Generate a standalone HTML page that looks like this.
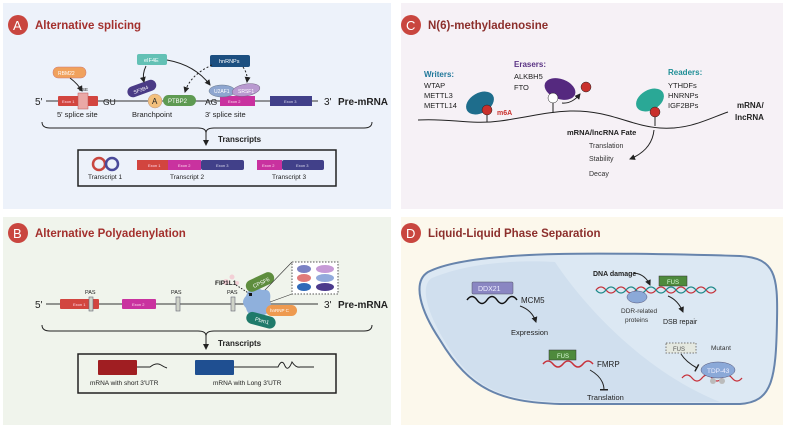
<!DOCTYPE html>
<html><head><meta charset="utf-8"><style>
html,body{margin:0;padding:0;background:#fff;width:786px;height:428px;overflow:hidden}
text{font-family:"Liberation Sans",sans-serif}
</style></head><body>
<svg width="786" height="428" viewBox="0 0 786 428" xmlns="http://www.w3.org/2000/svg">
<defs>
<marker id="ar" markerWidth="6" markerHeight="6" refX="5" refY="3" orient="auto"><path d="M0,0 L6,3 L0,6 Z" fill="#222"/></marker>
<marker id="tb" markerWidth="2" markerHeight="8" refX="1" refY="4" orient="auto"><rect x="0" y="0" width="1.5" height="8" fill="#222"/></marker>
</defs>
<!-- panels -->
<rect x="3" y="3" width="388" height="206" fill="#edf2fa"/>
<rect x="401" y="3" width="382" height="206" fill="#f6f1f6"/>
<rect x="3" y="217" width="388" height="208" fill="#f0f4ec"/>
<rect x="401" y="217" width="382" height="208" fill="#fcf8ec"/>

<!-- ===== A ===== -->
<circle cx="18" cy="25" r="10" fill="#c9463f"/><text x="13" y="30" font-size="13" fill="#fff">A</text>
<text x="35" y="29" font-size="11.5" font-weight="bold" fill="#a3302d">Alternative splicing</text>
<line x1="46" y1="101" x2="318" y2="101" stroke="#333" stroke-width="1"/>
<text x="35" y="105" font-size="10" fill="#222">5'</text>
<text x="324" y="105" font-size="10" fill="#222">3'</text>
<text x="338" y="105" font-size="10" font-weight="bold" fill="#222">Pre-mRNA</text>
<rect x="58" y="96" width="40" height="10" fill="#d2453f" rx="1"/>
<text x="62" y="103" font-size="4" fill="#fde">Exon 1</text>
<rect x="78" y="93" width="10" height="16" fill="#eaa8a6" stroke="#b55" stroke-width=".5"/>
<text x="79" y="91" font-size="4.5" fill="#222">ESE</text>
<text x="103" y="105" font-size="8.5" fill="#222">GU</text>
<text x="57" y="117" font-size="7.5" fill="#222">5' splice site</text>
<rect x="53" y="67" width="33" height="11" rx="5" fill="#f0a15c" stroke="#c77" stroke-width=".5"/>
<text x="58" y="75" font-size="5" fill="#fff">RBM22</text>
<path d="M70 78 Q78 84 82 91" stroke="#222" fill="none" stroke-width="1" marker-end="url(#ar)"/>
<g transform="rotate(-20 142 89)"><rect x="127" y="83" width="30" height="11" rx="5.5" fill="#4a3b86"/><text x="133" y="91" font-size="5" fill="#fff">SF3B4</text></g>
<circle cx="155" cy="101" r="7" fill="#f3c07c" stroke="#b98" stroke-width=".5"/><text x="152" y="104" font-size="8" fill="#222">A</text>
<rect x="163" y="95" width="33" height="11" rx="5.5" fill="#5e9a52"/><text x="168" y="103" font-size="6" fill="#fff">PTBP2</text>
<text x="132" y="117" font-size="7.5" fill="#222">Branchpoint</text>
<text x="205" y="105" font-size="8.5" fill="#222">AG</text>
<rect x="220" y="96" width="35" height="10" fill="#c9329f"/>
<text x="228" y="103" font-size="4" fill="#fde">Exon 2</text>
<ellipse cx="222" cy="91" rx="13" ry="6" fill="#8ea6d0" stroke="#678" stroke-width=".5"/><text x="214" y="93" font-size="5" fill="#fff">U2AF1</text>
<ellipse cx="246" cy="90" rx="14" ry="6" fill="#b99ad0" stroke="#768" stroke-width=".5" transform="rotate(-10 246 90)"/><text x="238" y="93" font-size="5" fill="#fff">SRSF1</text>
<text x="205" y="117" font-size="7.5" fill="#222">3' splice site</text>
<rect x="270" y="96" width="42" height="10" fill="#414089"/>
<text x="284" y="103" font-size="4" fill="#dde">Exon 3</text>
<rect x="137" y="54" width="30" height="11" rx="2" fill="#63c1b5"/><text x="144" y="62" font-size="5.5" fill="#fff">eIF4E</text>
<rect x="210" y="55" width="40" height="12" rx="2" fill="#1c4f80"/><text x="219" y="63" font-size="5.5" fill="#fff">hnRNPs</text>
<path d="M146 66 Q142 74 144 82" stroke="#222" fill="none" marker-end="url(#ar)"/>
<path d="M167 60 Q195 65 210 85" stroke="#222" fill="none" marker-end="url(#ar)"/>
<path d="M212 65 Q190 75 185 92" stroke="#222" fill="none" stroke-dasharray="2,2" marker-end="url(#ar)"/>
<path d="M243 67 Q248 74 247 82" stroke="#222" fill="none" stroke-dasharray="2,2" marker-end="url(#ar)"/>
<path d="M42 122 Q42 128 50 128 L198 128 Q206 128 206 133 Q206 128 214 128 L364 128 Q372 128 372 122" stroke="#222" fill="none"/>
<line x1="206" y1="132" x2="206" y2="145" stroke="#222" marker-end="url(#ar)"/>
<text x="218" y="142" font-size="8" font-weight="bold" fill="#222">Transcripts</text>
<rect x="78" y="150" width="258" height="36" fill="none" stroke="#222" stroke-width="1.5"/>
<circle cx="99" cy="164" r="6" fill="none" stroke="#c9463f" stroke-width="2.5"/>
<circle cx="112" cy="164" r="6" fill="none" stroke="#4a4a9a" stroke-width="2.5"/>
<text x="88" y="179" font-size="6.5" fill="#222">Transcript 1</text>
<rect x="137" y="160" width="31" height="10" fill="#d2453f"/><rect x="168" y="160" width="33" height="10" fill="#c9329f"/><rect x="201" y="160" width="43" height="10" fill="#414089" rx="2"/>
<text x="148" y="167" font-size="4" fill="#fde">Exon 1</text><text x="178" y="167" font-size="4" fill="#fde">Exon 2</text><text x="216" y="167" font-size="4" fill="#dde">Exon 3</text>
<text x="170" y="179" font-size="6.5" fill="#222">Transcript 2</text>
<rect x="257" y="160" width="25" height="10" fill="#c9329f"/><rect x="282" y="160" width="42" height="10" fill="#414089" rx="2"/>
<text x="262" y="167" font-size="4" fill="#fde">Exon 2</text><text x="296" y="167" font-size="4" fill="#dde">Exon 3</text>
<text x="272" y="179" font-size="6.5" fill="#222">Transcript 3</text>

<!-- ===== B ===== -->
<circle cx="18" cy="233" r="10" fill="#c9463f"/><text x="13" y="238" font-size="13" fill="#fff">B</text>
<text x="35" y="237" font-size="11.5" font-weight="bold" fill="#a3302d">Alternative Polyadenylation</text>
<line x1="46" y1="304" x2="318" y2="304" stroke="#333"/>
<text x="35" y="308" font-size="10" fill="#222">5'</text>
<text x="324" y="308" font-size="10" fill="#222">3'</text>
<text x="338" y="308" font-size="10" font-weight="bold" fill="#222">Pre-mRNA</text>
<rect x="60" y="299" width="39" height="10" rx="1" fill="#d2453f"/><text x="73" y="306" font-size="4" fill="#fde">Exon 1</text>
<rect x="122" y="299" width="34" height="10" rx="1" fill="#c9329f"/><text x="132" y="306" font-size="4" fill="#fde">Exon 2</text>
<rect x="89" y="297" width="4" height="14" fill="#cfd3c8" stroke="#667" stroke-width=".6"/>
<rect x="176" y="297" width="4" height="14" fill="#cfd3c8" stroke="#667" stroke-width=".6"/>
<rect x="231" y="297" width="4" height="14" fill="#cfd3c8" stroke="#667" stroke-width=".6"/>
<text x="85" y="294" font-size="5.5" fill="#222">PAS</text><text x="171" y="294" font-size="5.5" fill="#222">PAS</text><text x="227" y="294" font-size="5.5" fill="#222">PAS</text>
<path d="M246 296 Q250 284 262 290 Q272 288 270 300 Q274 312 262 316 Q248 318 246 308 Q240 302 246 296Z" fill="#8fb0dc"/>
<g transform="rotate(-25 260 282)"><rect x="245" y="276" width="30" height="12" rx="6" fill="#5e8d3e"/><text x="252" y="285" font-size="5.5" fill="#fff">CPSF6</text></g>
<g transform="rotate(15 260 320)"><rect x="246" y="314" width="30" height="12" rx="6" fill="#1f7a6a"/><text x="255" y="322" font-size="5.5" fill="#fff">Pbm1</text></g>
<rect x="266" y="305" width="31" height="11" rx="5.5" fill="#ee9a50"/><text x="270" y="312" font-size="4.5" fill="#fff">hnRNP C</text>
<circle cx="226" cy="282" r="3" fill="#f3d0d6"/><circle cx="232" cy="277" r="2.5" fill="#f3d0d6"/><circle cx="237" cy="283" r="2" fill="#f3d0d6"/>
<text x="215" y="285" font-size="6.5" font-weight="bold" fill="#222">FIP1L1</text>
<path d="M236 285 L250 294" stroke="#222" stroke-dasharray="1.5,1.5"/>
<rect x="249" y="293" width="3" height="3" fill="#111"/>
<line x1="265" y1="290" x2="292" y2="262" stroke="#333" stroke-width=".6"/>
<line x1="270" y1="302" x2="292" y2="294" stroke="#333" stroke-width=".6"/>
<rect x="292" y="262" width="46" height="32" fill="#fff" stroke="#555" stroke-dasharray="1.5,1.5"/>
<ellipse cx="304" cy="269" rx="7" ry="4" fill="#7b82c4"/><ellipse cx="325" cy="269" rx="9" ry="4" fill="#c69ad6"/>
<ellipse cx="304" cy="278" rx="7" ry="4" fill="#e07a7a"/><ellipse cx="325" cy="278" rx="9" ry="4" fill="#92aadc"/>
<ellipse cx="304" cy="287" rx="7" ry="4" fill="#2f69b8"/><ellipse cx="325" cy="287" rx="9" ry="4" fill="#4b3a8c"/>
<path d="M42 325 Q42 331 50 331 L198 331 Q206 331 206 336 Q206 331 214 331 L364 331 Q372 331 372 325" stroke="#222" fill="none"/>
<line x1="206" y1="335" x2="206" y2="349" stroke="#222" marker-end="url(#ar)"/>
<text x="218" y="346" font-size="8" font-weight="bold" fill="#222">Transcripts</text>
<rect x="78" y="354" width="258" height="39" fill="none" stroke="#222" stroke-width="1.5"/>
<rect x="98" y="360" width="39" height="15" rx="1" fill="#a01e22"/>
<path d="M137 367 L150 367 Q156 362 161 365 Q164 367 167 368" stroke="#222" fill="none"/>
<text x="90" y="385" font-size="6.5" fill="#222">mRNA with short 3'UTR</text>
<rect x="195" y="360" width="39" height="15" rx="1" fill="#1f4f91"/>
<path d="M234 367 L278 367 Q282 358 285 366 Q288 372 292 362 Q296 368 300 367 L314 367" stroke="#222" fill="none"/>
<text x="213" y="385" font-size="6.5" fill="#222">mRNA with Long 3'UTR</text>

<!-- ===== C ===== -->
<circle cx="411" cy="25" r="10" fill="#c9463f"/><text x="406" y="30" font-size="13" fill="#fff">C</text>
<text x="428" y="29" font-size="11.5" font-weight="bold" fill="#8c2f2c">N(6)-methyladenosine</text>
<text x="424" y="77" font-size="8" font-weight="bold" fill="#20789a">Writers:</text>
<text x="424" y="88" font-size="7.5" fill="#222">WTAP</text><text x="424" y="98" font-size="7.5" fill="#222">METTL3</text><text x="424" y="108" font-size="7.5" fill="#222">METTL14</text>
<text x="514" y="67" font-size="8" font-weight="bold" fill="#5a3384">Erasers:</text>
<text x="514" y="79" font-size="7.5" fill="#222">ALKBH5</text><text x="514" y="90" font-size="7.5" fill="#222">FTO</text>
<text x="668" y="75" font-size="8" font-weight="bold" fill="#1f8e96">Readers:</text>
<text x="668" y="88" font-size="7.5" fill="#222">YTHDFs</text><text x="668" y="98" font-size="7.5" fill="#222">HNRNPs</text><text x="668" y="108" font-size="7.5" fill="#222">IGF2BPs</text>
<path d="M418 120 C450 118 470 125 500 121 C530 117 545 112 570 111 C610 110 630 126 660 128 C690 130 710 118 728 112" stroke="#222" fill="none" stroke-width="1"/>
<ellipse cx="480" cy="103" rx="15" ry="10" fill="#1e6d8c" transform="rotate(-30 480 103)"/>
<line x1="487" y1="110" x2="487" y2="122" stroke="#222"/>
<circle cx="487" cy="110" r="5" fill="#c9302c" stroke="#222" stroke-width=".5"/>
<text x="497" y="115" font-size="7" font-weight="bold" fill="#c9302c">m6A</text>
<ellipse cx="560" cy="89" rx="16" ry="10" fill="#55297f" transform="rotate(20 560 89)"/>
<line x1="553" y1="98" x2="553" y2="113" stroke="#222"/>
<circle cx="553" cy="98" r="5" fill="#fff" stroke="#222" stroke-width=".5"/>
<path d="M562 103 Q572 104 580 94" stroke="#222" fill="none" marker-end="url(#ar)"/>
<circle cx="586" cy="87" r="5" fill="#c9302c" stroke="#222" stroke-width=".5"/>
<ellipse cx="650" cy="100" rx="15" ry="10" fill="#2aa896" transform="rotate(-30 650 100)"/>
<line x1="655" y1="112" x2="655" y2="126" stroke="#222"/>
<circle cx="655" cy="112" r="5" fill="#c9302c" stroke="#222" stroke-width=".5"/>
<text x="737" y="108" font-size="8" font-weight="bold" fill="#222">mRNA/</text>
<text x="735" y="120" font-size="8" font-weight="bold" fill="#222">lncRNA</text>
<text x="567" y="135" font-size="7.5" font-weight="bold" fill="#222">mRNA/lncRNA Fate</text>
<text x="589" y="148" font-size="7" fill="#333">Translation</text>
<text x="589" y="161" font-size="7" fill="#333">Stability</text>
<text x="589" y="176" font-size="7" fill="#333">Decay</text>
<path d="M654 130 Q652 150 630 159" stroke="#222" fill="none" marker-end="url(#ar)"/>

<!-- ===== D ===== -->
<circle cx="411" cy="233" r="10" fill="#c9463f"/><text x="406" y="238" font-size="13" fill="#fff">D</text>
<text x="428" y="237" font-size="11.5" font-weight="bold" fill="#8c2f2c">Liquid-Liquid Phase Separation</text>
<path d="M428 272 C470 250 600 252 740 256 C775 258 778 275 777 320 C776 380 772 402 740 404 L560 404 C500 402 470 390 440 340 C420 310 412 282 428 272 Z" fill="#dce8f3" stroke="#6784ac" stroke-width="2"/>
<path d="M432 278 C470 262 520 260 555 262 C580 300 640 370 720 402 L560 402 C500 400 472 388 444 340 C426 310 420 285 432 278Z" fill="#d0dfee"/>
<rect x="472" y="282" width="41" height="12" rx="1" fill="#8a86c2" stroke="#556" stroke-width=".5"/>
<text x="478" y="291" font-size="7" fill="#eef">DDX21</text>
<path d="M467 300 q5 -7 10 0 t10 0 t10 0 t10 0 t10 0" stroke="#111" fill="none" stroke-width="1.5"/>
<text x="521" y="303" font-size="8" fill="#222">MCM5</text>
<path d="M520 306 Q532 310 536 322" stroke="#222" fill="none" marker-end="url(#ar)"/>
<text x="511" y="335" font-size="7.5" fill="#222">Expression</text>
<text x="593" y="276" font-size="7" font-weight="bold" fill="#222">DNA damage</text>
<path d="M634 273 Q645 274 650 285" stroke="#222" fill="none" marker-end="url(#ar)"/>
<rect x="659" y="276" width="28" height="10" fill="#4e8a3c" stroke="#333" stroke-width=".5"/><text x="667" y="284" font-size="6" fill="#dfd">FUS</text>
<path d="M596 290 q5 -6 10 0 t10 0 t10 0 t10 0 t10 0 t10 0 t10 0 t10 0 t10 0 t10 0 t10 0 t10 0" stroke="#c7323b" fill="none" stroke-width="1.3"/>
<path d="M596 290 q5 6 10 0 t10 0 t10 0 t10 0 t10 0 t10 0 t10 0 t10 0 t10 0 t10 0 t10 0 t10 0" stroke="#1e8a8a" fill="none" stroke-width="1.3"/>
<ellipse cx="637" cy="297" rx="10" ry="6" fill="#8ba9d8" stroke="#557" stroke-width=".5"/>
<text x="621" y="313" font-size="6.5" fill="#333">DDR-related</text>
<text x="625" y="322" font-size="6.5" fill="#333">proteins</text>
<path d="M668 296 Q678 300 683 312" stroke="#222" fill="none" marker-end="url(#ar)"/>
<text x="663" y="324" font-size="7" fill="#222">DSB repair</text>
<rect x="549" y="350" width="27" height="10" fill="#4e8a3c" stroke="#333" stroke-width=".5"/><text x="557" y="358" font-size="6" fill="#dfd">FUS</text>
<path d="M543 364 q5 -6 10 0 t10 0 t10 0 t10 0 t10 0" stroke="#c7323b" fill="none" stroke-width="1.5"/>
<text x="597" y="367" font-size="8" fill="#222">FMRP</text>
<path d="M590 370 Q604 378 604 390" stroke="#222" fill="none" marker-end="url(#tb)"/>
<text x="587" y="400" font-size="7.5" fill="#222">Translation</text>
<rect x="666" y="343" width="30" height="10" fill="#e4e8e0" stroke="#777" stroke-dasharray="1.5,1.5"/><text x="673" y="351" font-size="6" fill="#555">FUS</text>
<text x="711" y="350" font-size="6.5" fill="#333">Mutant</text>
<path d="M681 354 Q686 362 697 368" stroke="#222" fill="none" marker-end="url(#tb)"/>
<path d="M682 378 q5 -6 10 0 t10 0 t10 0 t10 0 t10 0 t10 0" stroke="#c7323b" fill="none" stroke-width="1.3"/>
<circle cx="713" cy="381" r="3" fill="#bbb"/><circle cx="722" cy="381" r="3" fill="#bbb"/>
<ellipse cx="718" cy="370" rx="17" ry="8" fill="#8ba9d8" stroke="#557" stroke-width=".5"/>
<text x="707" y="373" font-size="6.5" fill="#eef">TDP-43</text>
</svg>
</body></html>
